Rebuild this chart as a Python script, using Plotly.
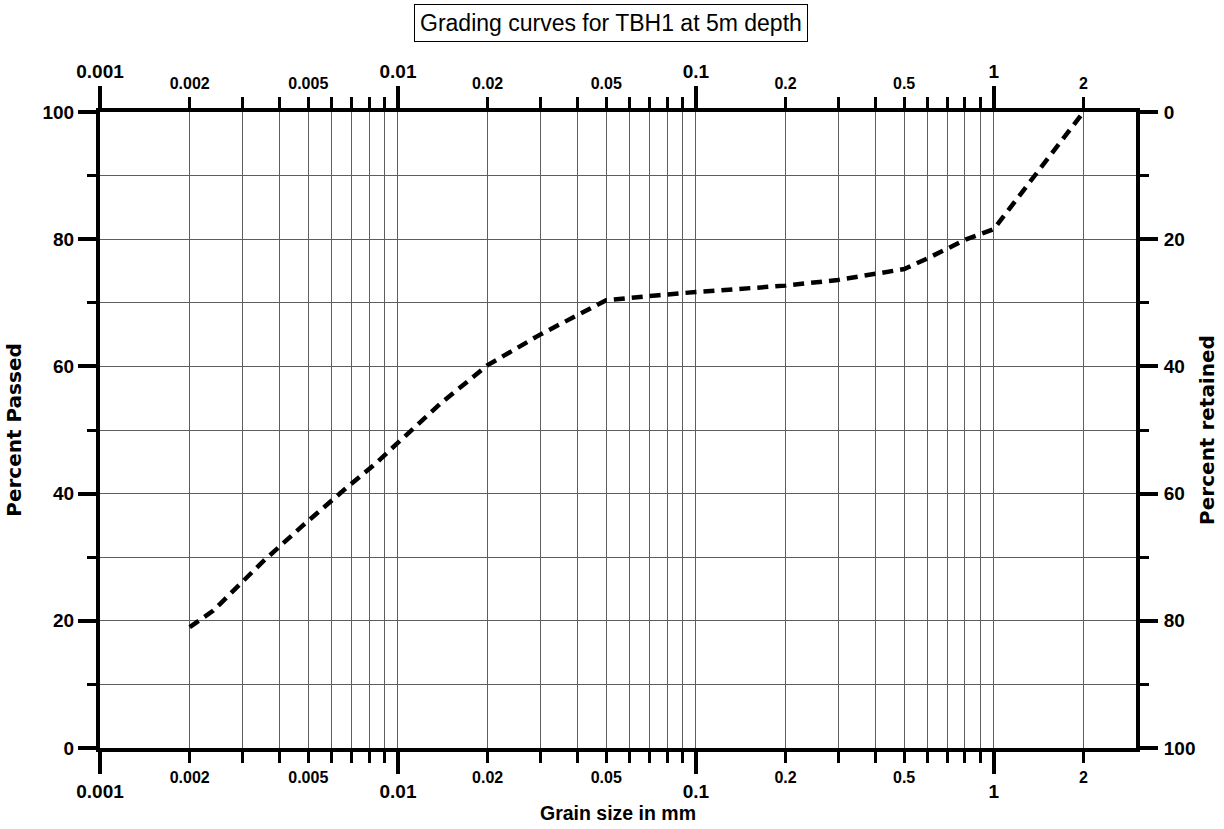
import math
import plotly.graph_objects as go

# Particle size distribution, TBH1 at 5 m
grain_size_mm = [0.002, 0.0024, 0.0035, 0.0048, 0.0066, 0.0084, 0.01, 0.014,
                 0.02, 0.03, 0.05, 0.06, 0.075, 0.1, 0.2, 0.3, 0.4, 0.5, 0.6,
                 0.8, 1.0, 2.0]
percent_passed = [19.0, 21.6, 29.2, 35.0, 40.6, 44.7, 48.0, 54.3,
                  60.2, 65.0, 70.4, 70.8, 71.2, 71.7, 72.7, 73.6, 74.5, 75.3, 77.0,
                  79.9, 81.6, 100.0]

# Axis ticks
decade_ticks = [0.001, 0.01, 0.1, 1]
decade_labels = ["0.001", "0.01", "0.1", "1"]
mid_ticks = [0.002, 0.005, 0.02, 0.05, 0.2, 0.5, 2]
mid_labels = ["0.002", "0.005", "0.02", "0.05", "0.2", "0.5", "2"]
minor_ticks = ([m * 0.001 for m in range(2, 10)] + [m * 0.01 for m in range(2, 10)]
               + [m * 0.1 for m in range(2, 10)] + [2])
passed_ticks = [0, 20, 40, 60, 80, 100]
ten_ticks = [10, 30, 50, 70, 90]
retained_ticks = [0, 20, 40, 60, 80, 100]

x_range = [math.log10(0.001), math.log10(3)]

SANS = "Liberation Sans, Arial, sans-serif"
WIDE = "DejaVu Sans, Verdana, sans-serif"
GRID = "#5e5e5e"

fig = go.Figure()

fig.add_trace(go.Scatter(
    x=grain_size_mm, y=percent_passed, mode="lines",
    line=dict(color="black", width=4.5, dash="11px,7px"),
    xaxis="x", yaxis="y", hoverinfo="skip", showlegend=False,
))
# helper traces so every overlay axis gets drawn
for xa, ya in [("x2", "y"), ("x3", "y"), ("x4", "y"), ("x", "y2")]:
    fig.add_trace(go.Scatter(
        x=grain_size_mm, y=percent_passed, mode="lines",
        line=dict(color="rgba(0,0,0,0)", width=0),
        xaxis=xa, yaxis=ya, hoverinfo="skip", showlegend=False,
    ))

big_font = dict(family=SANS, size=19, color="black", weight=700)
small_font = dict(family=SANS, size=16, color="black", weight=700)

common_x = dict(type="log", range=x_range, domain=[0, 1], zeroline=False,
                fixedrange=True, automargin=False)

fig.update_layout(
    width=1224, height=829,
    margin=dict(l=100, r=88, t=112, b=81, autoexpand=False),
    paper_bgcolor="white", plot_bgcolor="white",
    showlegend=False,
    xaxis=dict(
        **common_x, anchor="y", side="bottom",
        showline=True, linewidth=4, linecolor="black",
        tickmode="array", tickvals=decade_ticks, ticktext=decade_labels,
        ticks="outside", ticklen=22, tickwidth=4, tickcolor="black",
        tickfont=big_font, ticklabelstandoff=1,
        showgrid=True, gridcolor=GRID, gridwidth=1,
        minor=dict(tickmode="array", tickvals=minor_ticks, ticks="outside",
                   ticklen=11, tickwidth=3, tickcolor="black",
                   showgrid=True, gridcolor=GRID, gridwidth=1),
        title=dict(text="Grain size in mm", standoff=5,
                   font=dict(family=SANS, size=19.5, color="black", weight=700)),
    ),
    xaxis3=dict(
        **common_x, anchor="y", side="bottom", overlaying="x",
        showline=False, showgrid=False,
        tickmode="array", tickvals=mid_ticks, ticktext=mid_labels,
        ticks="outside", ticklen=11, tickcolor="rgba(0,0,0,0)",
        tickfont=small_font, ticklabelstandoff=4,
    ),
    xaxis2=dict(
        **common_x, anchor="y", side="top", overlaying="x",
        showline=True, linewidth=4, linecolor="black",
        tickmode="array", tickvals=decade_ticks, ticktext=decade_labels,
        ticks="outside", ticklen=22, tickwidth=4, tickcolor="black",
        tickfont=big_font, ticklabelstandoff=0, showgrid=False,
        minor=dict(tickmode="array", tickvals=minor_ticks, ticks="outside",
                   ticklen=11, tickwidth=3, tickcolor="black", showgrid=False),
    ),
    xaxis4=dict(
        **common_x, anchor="y", side="top", overlaying="x",
        showline=False, showgrid=False,
        tickmode="array", tickvals=mid_ticks, ticktext=mid_labels,
        ticks="outside", ticklen=11, tickcolor="rgba(0,0,0,0)",
        tickfont=small_font, ticklabelstandoff=5,
    ),
    yaxis=dict(
        range=[0, 100], domain=[0, 1], anchor="x", side="left",
        showline=True, linewidth=4, linecolor="black", zeroline=False,
        tickmode="array", tickvals=passed_ticks,
        ticks="outside", ticklen=18, tickwidth=4, tickcolor="black",
        tickfont=big_font, ticklabelstandoff=0,
        showgrid=True, gridcolor=GRID, gridwidth=1,
        minor=dict(tickmode="array", tickvals=ten_ticks, ticks="outside",
                   ticklen=9, tickwidth=3, tickcolor="black",
                   showgrid=True, gridcolor=GRID, gridwidth=1),
        title=dict(text="Percent Passed", standoff=16,
                   font=dict(family=WIDE, size=20, color="black", weight=700)),
        fixedrange=True, automargin=False,
    ),
    yaxis2=dict(
        range=[100, 0], anchor="x", side="right", overlaying="y",
        showline=True, linewidth=4, linecolor="black", zeroline=False,
        tickmode="array", tickvals=retained_ticks,
        ticks="outside", ticklen=18, tickwidth=4, tickcolor="black",
        tickfont=big_font, ticklabelstandoff=2, showgrid=False,
        minor=dict(tickmode="array", tickvals=ten_ticks, ticks="outside",
                   ticklen=9, tickwidth=3, tickcolor="black", showgrid=False),
        title=dict(text="Percent retained", standoff=6,
                   font=dict(family=WIDE, size=20, color="black", weight=700)),
        fixedrange=True, automargin=False,
    ),
    annotations=[dict(
        text="Grading curves for TBH1 at 5m depth",
        xref="paper", yref="paper", x=0.4932, y=1.1407,
        xanchor="center", yanchor="middle", showarrow=False,
        font=dict(family=SANS, size=23, color="black"),
        bordercolor="black", borderwidth=1, borderpad=5, bgcolor="white",
    )],
)

fig.write_html("out.html")
